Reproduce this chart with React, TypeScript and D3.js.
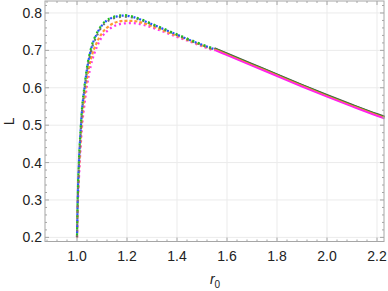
import React, { useRef, useEffect } from 'react';
import * as d3 from 'd3';

// r0 samples for the unstable (dotted) and stable (solid) branches
const r0Dotted = [1.0, 1.003, 1.008, 1.014, 1.02, 1.03, 1.04, 1.055, 1.08, 1.1, 1.13, 1.16, 1.19, 1.22, 1.26, 1.3, 1.35, 1.4, 1.45, 1.5, 1.55];
const r0Solid = [1.55, 1.6, 1.7, 1.8, 1.9, 2.0, 2.1, 2.2, 2.23];

const grayDotted = [0.2, 0.3, 0.4, 0.475, 0.535, 0.595, 0.645, 0.695, 0.74, 0.764, 0.781, 0.788, 0.79, 0.788, 0.78, 0.769, 0.755, 0.741, 0.727, 0.714, 0.702];
const greenDotted = [0.2, 0.31, 0.41, 0.485, 0.545, 0.605, 0.655, 0.703, 0.747, 0.769, 0.785, 0.792, 0.794, 0.791, 0.782, 0.771, 0.757, 0.743, 0.729, 0.716, 0.704];
const blueDotted = [0.2, 0.305, 0.405, 0.48, 0.54, 0.6, 0.65, 0.7, 0.745, 0.767, 0.784, 0.791, 0.793, 0.79, 0.781, 0.77, 0.756, 0.742, 0.728, 0.715, 0.703];
const orangeDotted = [0.2, 0.29, 0.38, 0.455, 0.515, 0.575, 0.625, 0.675, 0.722, 0.746, 0.766, 0.776, 0.779, 0.779, 0.774, 0.765, 0.752, 0.739, 0.726, 0.713, 0.701];
const magentaDotted = [0.2, 0.28, 0.36, 0.435, 0.495, 0.555, 0.605, 0.658, 0.71, 0.736, 0.757, 0.768, 0.772, 0.773, 0.769, 0.761, 0.749, 0.736, 0.724, 0.711, 0.699];

const graySolid = [0.706, 0.692, 0.664, 0.636, 0.608, 0.581, 0.555, 0.53, 0.523];
const greenSolid = [0.705, 0.691, 0.663, 0.635, 0.607, 0.58, 0.554, 0.529, 0.522];
const orangeSolid = [0.703, 0.689, 0.661, 0.633, 0.605, 0.578, 0.552, 0.527, 0.52];
const magentaSolid = [0.701, 0.687, 0.659, 0.631, 0.603, 0.576, 0.55, 0.525, 0.518];

const xTicks = [1.0, 1.2, 1.4, 1.6, 1.8, 2.0, 2.2];
const yTicks = [0.2, 0.3, 0.4, 0.5, 0.6, 0.7, 0.8];

const dottedSeries = [
  { values: magentaDotted, color: '#ff33ee', dash: '2 3', offset: 0 },
  { values: orangeDotted, color: '#ff9933', dash: '3 2', offset: 1 },
  { values: grayDotted, color: '#6f6f6f', dash: '2 4', offset: 0 },
  { values: blueDotted, color: '#2255ff', dash: '2 4', offset: 2 },
  { values: greenDotted, color: '#22bb22', dash: '2 4', offset: 4 },
];
const solidSeries = [
  { values: graySolid, color: '#555555' },
  { values: greenSolid, color: '#338833' },
  { values: orangeSolid, color: '#ff8833' },
  { values: magentaSolid, color: '#ff22ee' },
];

export default function App() {
  const svgRef = useRef<SVGSVGElement>(null);

  useEffect(() => {
    if (!svgRef.current) return;
    const svg = d3.select(svgRef.current);
    svg.selectAll('*').remove();

    const width = 388;
    const height = 291;
    const margin = { top: 1, right: 4, bottom: 49.5, left: 45 };
    const font = 'Liberation Sans, Arial, sans-serif';

    const x = d3.scaleLinear().domain([0.872, 2.228]).range([margin.left, width - margin.right]);
    const y = d3.scaleLinear().domain([0.189, 0.832]).range([height - margin.bottom, margin.top]);

    // gridlines
    const grid = svg.append('g').attr('stroke', '#ebebeb').attr('stroke-width', 1);
    grid.selectAll('line.v').data(xTicks).enter().append('line')
      .attr('x1', d => x(d)).attr('x2', d => x(d))
      .attr('y1', y.range()[1]).attr('y2', y.range()[0]);
    grid.selectAll('line.h').data(yTicks).enter().append('line')
      .attr('x1', x.range()[0]).attr('x2', x.range()[1])
      .attr('y1', d => y(d)).attr('y2', d => y(d));

    // curves
    const line = d3.line<[number, number]>().x(d => x(d[0])).y(d => y(d[1])).curve(d3.curveMonotoneX);
    const plot = svg.append('g');
    dottedSeries.forEach(s => {
      plot.append('path')
        .attr('d', line(r0Dotted.map((r, i) => [r, s.values[i]] as [number, number])))
        .attr('fill', 'none').attr('stroke', s.color).attr('stroke-width', 2.2)
        .attr('stroke-dasharray', s.dash).attr('stroke-dashoffset', s.offset);
    });
    solidSeries.forEach(s => {
      plot.append('path')
        .attr('d', line(r0Solid.map((r, i) => [r, s.values[i]] as [number, number])))
        .attr('fill', 'none').attr('stroke', s.color).attr('stroke-width', 1.8);
    });

    // frame with inward ticks
    const frameColor = '#a6a6a6';
    const bottomY = y.range()[0];
    const topY = y.range()[1];
    const leftX = x.range()[0];
    const rightX = x.range()[1];
    svg.append('rect')
      .attr('x', leftX).attr('y', topY)
      .attr('width', rightX - leftX).attr('height', bottomY - topY)
      .attr('fill', 'none').attr('stroke', frameColor).attr('stroke-width', 1);

    const xMinor = d3.range(0.88, 2.23, 0.04).filter(v => v >= x.domain()[0] && v <= x.domain()[1]);
    const yMinor = d3.range(0.2, 0.832, 0.02);
    const ticks = svg.append('g').attr('stroke', frameColor).attr('stroke-width', 1);
    xMinor.forEach(v => {
      const major = xTicks.some(t => Math.abs(t - v) < 1e-6);
      const len = major ? 4 : 2;
      ticks.append('line').attr('x1', x(v)).attr('x2', x(v)).attr('y1', bottomY).attr('y2', bottomY - len);
      ticks.append('line').attr('x1', x(v)).attr('x2', x(v)).attr('y1', topY).attr('y2', topY + len);
    });
    yMinor.forEach(v => {
      const major = yTicks.some(t => Math.abs(t - v) < 1e-6);
      const len = major ? 4 : 2;
      ticks.append('line').attr('x1', leftX).attr('x2', leftX + len).attr('y1', y(v)).attr('y2', y(v));
      ticks.append('line').attr('x1', rightX).attr('x2', rightX - len).attr('y1', y(v)).attr('y2', y(v));
    });

    // tick labels
    const labels = svg.append('g').attr('fill', '#222').style('font-family', font).style('font-size', '14px');
    labels.selectAll('text.x').data(xTicks).enter().append('text')
      .attr('x', d => x(d)).attr('y', bottomY + 19)
      .attr('text-anchor', 'middle').text(d => d3.format('.1f')(d));
    labels.selectAll('text.y').data(yTicks).enter().append('text')
      .attr('x', leftX - 3).attr('y', d => y(d) + 5)
      .attr('text-anchor', 'end').text(d => d3.format('.1f')(d));

    // axis titles
    const xt = svg.append('text').attr('x', 215).attr('y', 284)
      .attr('text-anchor', 'middle').attr('fill', '#222')
      .style('font-family', font).style('font-size', '14px');
    xt.append('tspan').style('font-style', 'italic').text('r');
    xt.append('tspan').attr('dy', 4).style('font-size', '10px').text('0');

    svg.append('text')
      .attr('transform', `translate(14,${(topY + bottomY) / 2}) rotate(-90)`)
      .attr('text-anchor', 'middle').attr('fill', '#222')
      .style('font-family', font).style('font-size', '14px')
      .text('L');
  }, []);

  return (
    <div style={{ position: 'fixed', left: 0, top: 0 }}>
      <svg ref={svgRef} width={388} height={291} style={{ display: 'block', background: '#fff' }} />
    </div>
  );
}
